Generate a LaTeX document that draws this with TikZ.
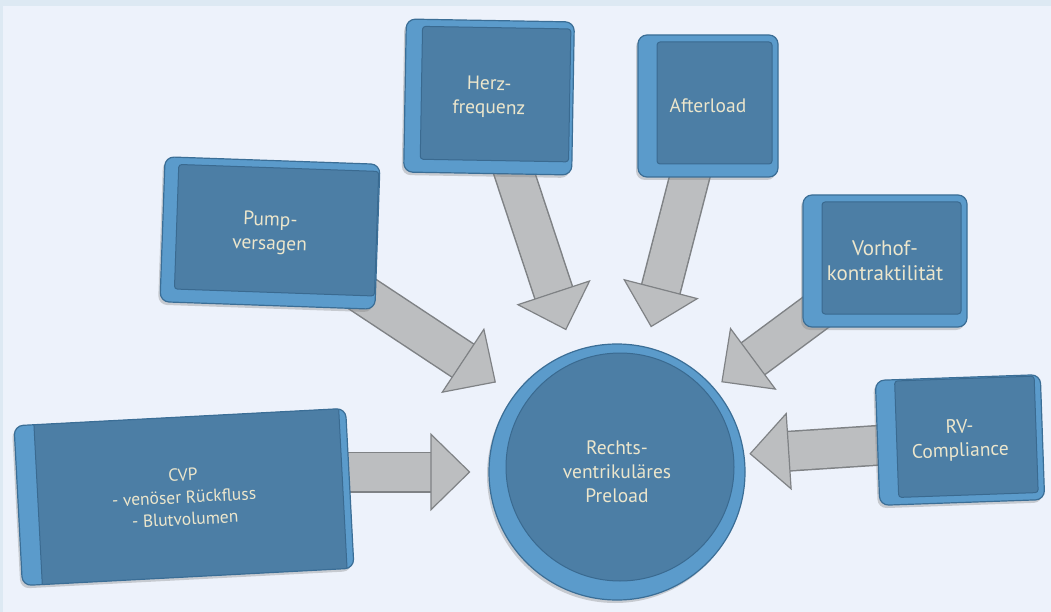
\documentclass[tikz,border=0pt]{standalone}
\usepackage{fontspec}
\setmainfont{PT Sans}
\usetikzlibrary{
    arrows.meta,
    backgrounds,
    shadows
}

\definecolor{band}{HTML}{DDE9F3}
\definecolor{backdrop}{HTML}{EDF2FB}
\definecolor{plateblue}{HTML}{5B9BCB}
\definecolor{plateedge}{HTML}{3B6E96}
\definecolor{faceblue}{HTML}{4C7EA5}
\definecolor{faceedge}{HTML}{3A6A90}
\definecolor{textcream}{HTML}{ECE6CC}
\definecolor{arrowgrey}{HTML}{BCBEC0}
\definecolor{arrowedge}{HTML}{7F8285}

\tikzset{
    plate/.style={
        rounded corners=9pt, fill=plateblue, draw=plateedge, line width=1.2pt,
        text=textcream, align=center, inner sep=0pt,
        font=\fontsize{19.5}{24}\selectfont,
        drop shadow={shadow xshift=-2pt, shadow yshift=-3pt, opacity=0.35},
        path picture={
            \fill[faceblue, draw=faceedge, line width=1pt, rounded corners=3pt]
                ([shift={(19pt,-7pt)}]path picture bounding box.north west)
                rectangle ([shift={(-6pt,13pt)}]path picture bounding box.south east);
        }
    },
    disc/.style={
        circle, fill=plateblue, draw=plateedge, line width=1.2pt,
        text=textcream, align=center, inner sep=0pt,
        font=\fontsize{19.5}{24}\selectfont,
        drop shadow={shadow xshift=-2pt, shadow yshift=-3pt, opacity=0.35},
        path picture={
            \fill[faceblue, draw=faceedge, line width=1pt]
                ([shift={(3pt,5pt)}]path picture bounding box.center) circle (114pt);
        }
    },
    flow/.style={
        draw=arrowgrey, line width=38pt, shorten >=#1,
        -{Triangle[length=40pt, width=78pt, line width=1.2pt, color=arrowedge, fill=arrowgrey]},
        preaction={draw=arrowedge, line width=41pt, arrows=-, shorten >=#1+36pt}
    },
    flow/.default=18pt
}

\begin{document}
\begin{tikzpicture}[x=1pt, y=-1pt]
    \useasboundingbox (0,0) rectangle (1051,612);

    % factor boxes
    \node[plate, minimum width=332pt, minimum height=160pt, rotate=3,
          font=\fontsize{17.5}{22}\selectfont] (cvp) at (184,497)
        {CVP\\- venöser Rückfluss\\- Blutvolumen};
    \node[plate, minimum width=215pt, minimum height=145pt, rotate=-2] (pump) at (270,233)
        {Pump-\\versagen};
    \node[plate, minimum width=168pt, minimum height=153pt, rotate=-1] (herz) at (489,97)
        {Herz-\\frequenz};
    \node[plate, minimum width=140pt, minimum height=142pt] (after) at (708,106)
        {Afterload};
    \node[plate, minimum width=164pt, minimum height=132pt,
          font=\fontsize{21}{25}\selectfont] (vorhof) at (885,261)
        {Vorhof-\\kontraktilität};
    \node[plate, minimum width=165pt, minimum height=125pt, rotate=2] (rv) at (960,440)
        {RV-\\Compliance};

    % centre
    \node[disc, minimum size=256pt] (preload) at (617,472)
        {Rechts-\\ventrikuläres\\Preload};

    \begin{pgfonlayer}{background}
        \fill[band] (0,0) rectangle (1051,612);
        \fill[backdrop] (3,6) rectangle (1051,612);

        \draw[flow=18pt] (cvp.center |- preload.west) -- (preload.west);
        \draw[flow=22pt] (pump.center) -- (preload.143);
        \draw[flow=22pt] (herz.center) -- (preload.110);
        \draw[flow=20pt] (after.center) -- (preload.77);
        \draw[flow=9pt] (vorhof.center) -- (preload.41);
        \draw[flow=5pt] (rv.center) -- (preload.8);
    \end{pgfonlayer}
\end{tikzpicture}
\end{document}
